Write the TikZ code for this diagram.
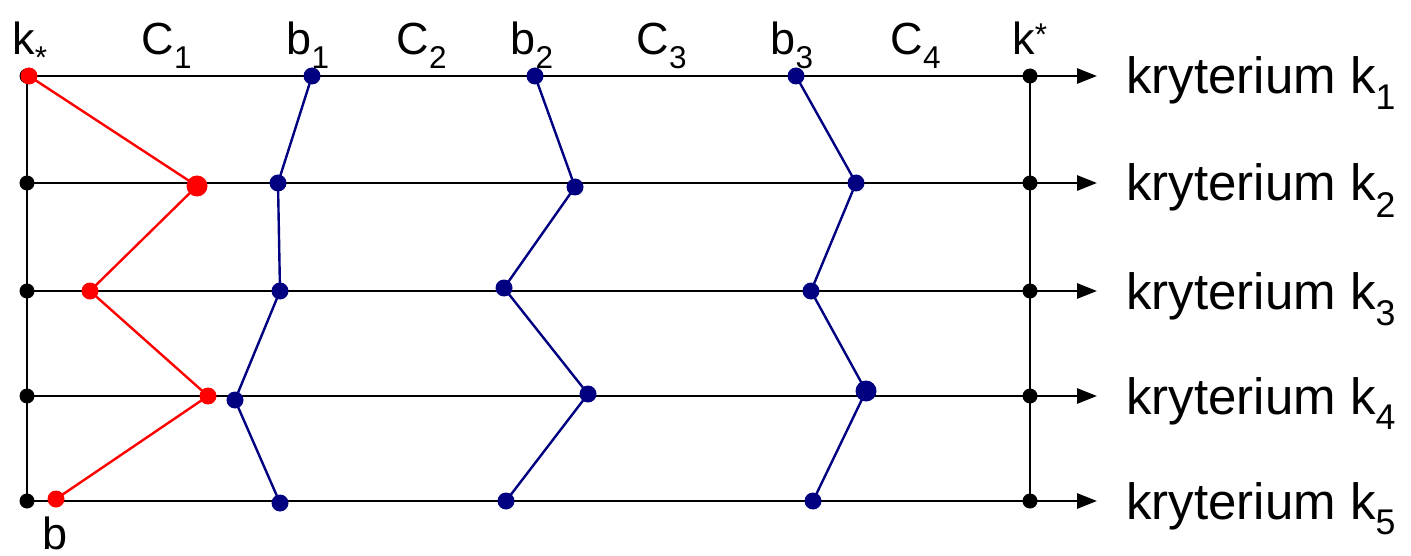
\documentclass[tikz,border=0pt]{standalone}
\usepackage{fontspec}
\setmainfont{Liberation Sans}
\usetikzlibrary{arrows.meta}
\begin{document}
\begin{tikzpicture}[x=1pt,y=-1pt,
  axis/.style={line width=2.8pt,black},
  axarrow/.style={axis,-{Triangle[length=20pt,width=15pt]}},
  redline/.style={line width=2.4pt,red},
  blueline/.style={line width=2.4pt,blue!50!black},
  bdot/.style={circle,fill=black,inner sep=0pt,minimum size=15pt},
  rdot/.style={circle,fill=red,inner sep=0pt,minimum size=17pt},
  udot/.style={circle,fill=blue!50!black,inner sep=0pt,minimum size=17pt},
  toplab/.style={anchor=base,font=\fontsize{45}{50}\selectfont,inner sep=0pt},
  rlab/.style={anchor=base west,font=\fontsize{51}{58}\selectfont,inner sep=0pt}]
\useasboundingbox (0,0) rectangle (1411,556);
% rows
\foreach \i/\y in {1/76,2/183,3/291,4/396,5/501}{
  \coordinate (L\i) at (27,\y);
  \coordinate (R\i) at (1030,\y);
  \coordinate (E\i) at (1097,\y);
  \node[rlab] (T\i) at (1126,\y+18) {kryterium k\textsubscript{\i}};
}
\foreach \i in {1,...,5}{ \draw[axarrow] (L\i) -- (E\i); }
\draw[axis] (L1) -- (L5);
\draw[axis] (R1) -- (R5);
\foreach \i in {1,...,5}{ \node[bdot] at (L\i) {}; \node[bdot] at (R\i) {}; }
% red profile
\node[rdot] (r1) at (29,76) {};
\node[rdot,minimum width=21pt] (r2) at (197,186) {};
\node[rdot] (r3) at (90,291) {};
\node[rdot] (r4) at (208,396) {};
\node[rdot] (r5) at (56,499) {};
\draw[redline] (r1.center) -- (r2.center) -- (r3.center) -- (r4.center) -- (r5.center);
% blue profiles
\node[udot] (a1) at (312,76) {};
\node[udot] (a2) at (278,183) {};
\node[udot] (a3) at (280,291) {};
\node[udot] (a4) at (235,400) {};
\node[udot] (a5) at (280,503) {};
\node[udot] (c1) at (535,76) {};
\node[udot] (c2) at (575,187) {};
\node[udot] (c3) at (504,288) {};
\node[udot] (c4) at (588,394) {};
\node[udot] (c5) at (506,501) {};
\node[udot] (d1) at (796,76) {};
\node[udot] (d2) at (856,183) {};
\node[udot] (d3) at (811,291) {};
\node[udot,minimum width=21pt] (d4) at (866,391) {};
\node[udot] (d5) at (813,501) {};
\draw[blueline] (a1.center) -- (a2.center) -- (a3.center) -- (a4.center) -- (a5.center);
\draw[blueline] (c1.center) -- (c2.center) -- (c3.center) -- (c4.center) -- (c5.center);
\draw[blueline] (d1.center) -- (d2.center) -- (d3.center) -- (d4.center) -- (d5.center);
% top labels
\node[toplab] (lks) at (30,55) {k\textsubscript{*}};
\node[toplab] (lc1) at (167,55) {C\textsubscript{1}};
\node[toplab] (lb1) at (308,55) {b\textsubscript{1}};
\node[toplab] (lc2) at (422,55) {C\textsubscript{2}};
\node[toplab] (lb2) at (532,55) {b\textsubscript{2}};
\node[toplab] (lc3) at (662,55) {C\textsubscript{3}};
\node[toplab] (lb3) at (792,55) {b\textsubscript{3}};
\node[toplab] (lc4) at (916,55) {C\textsubscript{4}};
\node[toplab] (lku) at (1030,55) {k\textsuperscript{*}};
\node[toplab] (lb) at (55,549) {b};
\end{tikzpicture}
\end{document}
